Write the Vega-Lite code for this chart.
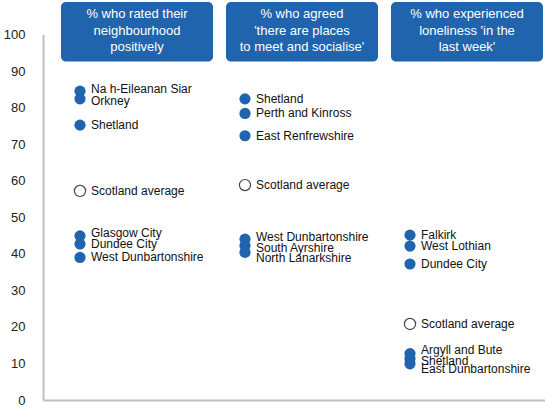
{
  "$schema": "https://vega.github.io/schema/vega-lite/v6.json",
  "width": 502,
  "height": 365.5,
  "autosize": {"type": "none"},
  "padding": {"left": 43, "top": 34.5, "right": 0, "bottom": 10},
  "config": {
    "font": "Liberation Sans",
    "view": {"stroke": null},
    "text": {"font": "Liberation Sans"}
  },
  "datasets": {
    "headers": [
      {"measure": "neighbourhood", "title": ["% who rated their", "neighbourhood", "positively"]},
      {"measure": "places", "title": ["% who agreed", "'there are places", "to meet and socialise'"]},
      {"measure": "loneliness", "title": ["% who experienced", "loneliness 'in the", "last week'"]}
    ],
    "points": [
      {"measure": "neighbourhood", "name": "Na h-Eileanan Siar", "kind": "area", "value": 84.5},
      {"measure": "neighbourhood", "name": "Orkney", "kind": "area", "value": 82.4},
      {"measure": "neighbourhood", "name": "Shetland", "kind": "area", "value": 75.2},
      {"measure": "neighbourhood", "name": "Scotland average", "kind": "average", "value": 57.2},
      {"measure": "neighbourhood", "name": "Glasgow City", "kind": "area", "value": 44.9},
      {"measure": "neighbourhood", "name": "Dundee City", "kind": "area", "value": 42.7},
      {"measure": "neighbourhood", "name": "West Dunbartonshire", "kind": "area", "value": 39.0},
      {"measure": "places", "name": "Shetland", "kind": "area", "value": 82.4},
      {"measure": "places", "name": "Perth and Kinross", "kind": "area", "value": 78.4},
      {"measure": "places", "name": "East Renfrewshire", "kind": "area", "value": 72.3},
      {"measure": "places", "name": "Scotland average", "kind": "average", "value": 58.8},
      {"measure": "places", "name": "West Dunbartonshire", "kind": "area", "value": 44.0},
      {"measure": "places", "name": "South Ayrshire", "kind": "area", "value": 42.2},
      {"measure": "places", "name": "North Lanarkshire", "kind": "area", "value": 40.4},
      {"measure": "loneliness", "name": "Falkirk", "kind": "area", "value": 45.1},
      {"measure": "loneliness", "name": "West Lothian", "kind": "area", "value": 42.1},
      {"measure": "loneliness", "name": "Dundee City", "kind": "area", "value": 37.2},
      {"measure": "loneliness", "name": "Scotland average", "kind": "average", "value": 20.8},
      {"measure": "loneliness", "name": "Argyll and Bute", "kind": "area", "value": 12.7},
      {"measure": "loneliness", "name": "Shetland", "kind": "area", "value": 11.3},
      {"measure": "loneliness", "name": "East Dunbartonshire", "kind": "area", "value": 9.9}
    ]
  },
  "encoding": {
    "x": {
      "field": "measure",
      "type": "nominal",
      "scale": {
        "domain": ["neighbourhood", "places", "loneliness"],
        "paddingInner": 0.0788,
        "paddingOuter": 0.0606,
        "align": 0.9
      },
      "axis": {
        "title": null,
        "labels": false,
        "ticks": false,
        "domainColor": "#c0c0c0",
        "domainWidth": 2
      }
    }
  },
  "layer": [
    {
      "data": {"name": "headers"},
      "mark": {"type": "rect", "color": "#1f64ad", "cornerRadius": 5},
      "encoding": {
        "y": {
          "datum": 108.9,
          "type": "quantitative",
          "scale": {"domain": [0, 100], "nice": false},
          "axis": {
            "title": null,
            "values": [0, 10, 20, 30, 40, 50, 60, 70, 80, 90, 100],
            "tickCount": 11,
            "labelOverlap": false,
            "labelFlush": false,
            "ticks": false,
            "grid": false,
            "labelPadding": 18,
            "labelFontSize": 13,
            "labelColor": "#222222",
            "domainColor": "#c0c0c0",
            "domainWidth": 2
          }
        },
        "y2": {"datum": 92.6}
      }
    },
    {
      "data": {"name": "headers"},
      "mark": {"type": "text", "color": "white", "fontSize": 13, "lineHeight": 16.5, "baseline": "middle"},
      "encoding": {
        "y": {"datum": 105.6, "type": "quantitative"},
        "text": {"field": "title"}
      }
    },
    {
      "data": {"name": "points"},
      "transform": [{"filter": "datum.kind == 'area'"}],
      "mark": {"type": "circle", "color": "#1f64ad", "size": 125, "opacity": 1},
      "encoding": {
        "x": {"field": "measure", "type": "nominal", "bandPosition": 0.125},
        "y": {
          "field": "value",
          "type": "quantitative",
          "axis": {
            "title": null,
            "values": [0, 10, 20, 30, 40, 50, 60, 70, 80, 90, 100],
            "tickCount": 11,
            "labelOverlap": false,
            "labelFlush": false,
            "ticks": false,
            "grid": false,
            "labelPadding": 18,
            "labelFontSize": 13,
            "labelColor": "#222222",
            "domainColor": "#c0c0c0",
            "domainWidth": 2
          }
        }
      }
    },
    {
      "data": {"name": "points"},
      "transform": [{"filter": "datum.kind == 'average'"}],
      "mark": {"type": "point", "shape": "circle", "filled": false, "fill": "white", "stroke": "#444444", "strokeWidth": 1.2, "size": 125, "opacity": 1},
      "encoding": {
        "x": {"field": "measure", "type": "nominal", "bandPosition": 0.125},
        "y": {"field": "value", "type": "quantitative"}
      }
    },
    {
      "data": {"name": "points"},
      "transform": [{"filter": "indexof(['loneliness|Argyll and Bute', 'neighbourhood|Glasgow City', 'neighbourhood|Na h-Eileanan Siar', 'places|West Dunbartonshire', 'neighbourhood|Orkney', 'loneliness|Shetland', 'places|South Ayrshire', 'places|North Lanarkshire', 'loneliness|East Dunbartonshire'], datum.measure + '|' + datum.name) < 0"}],
      "mark": {"type": "text", "align": "left", "baseline": "middle", "dx": 11, "fontSize": 12, "color": "#111111"},
      "encoding": {
        "x": {"field": "measure", "type": "nominal", "bandPosition": 0.125},
        "y": {"field": "value", "type": "quantitative"},
        "text": {"field": "name"}
      }
    },
    {
      "data": {"name": "points"},
      "transform": [{"filter": "datum.measure == 'loneliness' && datum.name == 'Argyll and Bute'"}],
      "mark": {"type": "text", "align": "left", "baseline": "middle", "dx": 11, "dy": -4, "fontSize": 12, "color": "#111111"},
      "encoding": {
        "x": {"field": "measure", "type": "nominal", "bandPosition": 0.125},
        "y": {"field": "value", "type": "quantitative"},
        "text": {"field": "name"}
      }
    },
    {
      "data": {"name": "points"},
      "transform": [{"filter": "indexof(['neighbourhood|Glasgow City', 'neighbourhood|Na h-Eileanan Siar', 'places|West Dunbartonshire'], datum.measure + '|' + datum.name) >= 0"}],
      "mark": {"type": "text", "align": "left", "baseline": "middle", "dx": 11, "dy": -2.5, "fontSize": 12, "color": "#111111"},
      "encoding": {
        "x": {"field": "measure", "type": "nominal", "bandPosition": 0.125},
        "y": {"field": "value", "type": "quantitative"},
        "text": {"field": "name"}
      }
    },
    {
      "data": {"name": "points"},
      "transform": [{"filter": "indexof(['neighbourhood|Orkney', 'loneliness|Shetland', 'places|South Ayrshire'], datum.measure + '|' + datum.name) >= 0"}],
      "mark": {"type": "text", "align": "left", "baseline": "middle", "dx": 11, "dy": 2, "fontSize": 12, "color": "#111111"},
      "encoding": {
        "x": {"field": "measure", "type": "nominal", "bandPosition": 0.125},
        "y": {"field": "value", "type": "quantitative"},
        "text": {"field": "name"}
      }
    },
    {
      "data": {"name": "points"},
      "transform": [{"filter": "indexof(['places|North Lanarkshire', 'loneliness|East Dunbartonshire'], datum.measure + '|' + datum.name) >= 0"}],
      "mark": {"type": "text", "align": "left", "baseline": "middle", "dx": 11, "dy": 5.5, "fontSize": 12, "color": "#111111"},
      "encoding": {
        "x": {"field": "measure", "type": "nominal", "bandPosition": 0.125},
        "y": {"field": "value", "type": "quantitative"},
        "text": {"field": "name"}
      }
    }
  ]
}
